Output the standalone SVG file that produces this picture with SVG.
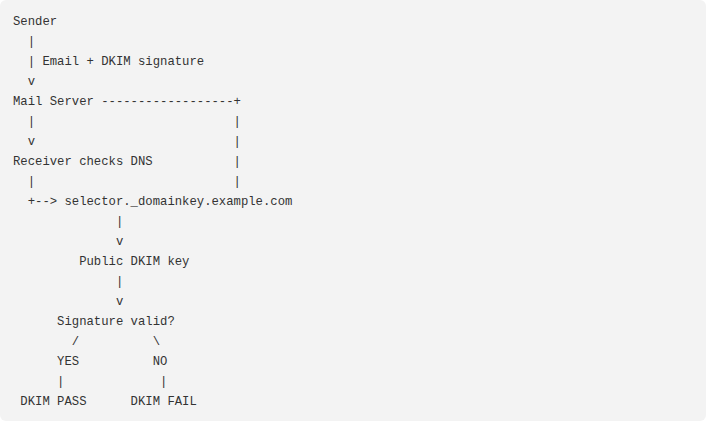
<svg xmlns="http://www.w3.org/2000/svg" width="706" height="424" viewBox="0 0 706 424">
<style>
text{font-family:"Liberation Mono","DejaVu Sans Mono",monospace;font-size:12.25px;fill:#333333;white-space:pre}
</style>
<rect x="0" y="0" width="706" height="424" fill="#ffffff"/>
<rect x="0" y="0" width="706" height="421" rx="6" ry="6" fill="#f3f3f3"/>
<g id="diagram" xml:space="preserve">
<text x="13" y="24.5">Sender</text>
<text x="13" y="44.5">  |</text>
<text x="13" y="64.5">  | Email + DKIM signature</text>
<text x="13" y="84.5">  v</text>
<text x="13" y="104.5">Mail Server ------------------+</text>
<text x="13" y="124.5">  |                           |</text>
<text x="13" y="144.5">  v                           |</text>
<text x="13" y="164.5">Receiver checks DNS           |</text>
<text x="13" y="184.5">  |                           |</text>
<text x="13" y="204.5">  +--&gt; selector._domainkey.example.com</text>
<text x="13" y="224.5">              |</text>
<text x="13" y="244.5">              v</text>
<text x="13" y="264.5">         Public DKIM key</text>
<text x="13" y="284.5">              |</text>
<text x="13" y="304.5">              v</text>
<text x="13" y="324.5">      Signature valid?</text>
<text x="13" y="344.5">        /          \</text>
<text x="13" y="364.5">      YES          NO</text>
<text x="13" y="384.5">      |             |</text>
<text x="13" y="404.5"> DKIM PASS      DKIM FAIL</text>
</g>
</svg>
